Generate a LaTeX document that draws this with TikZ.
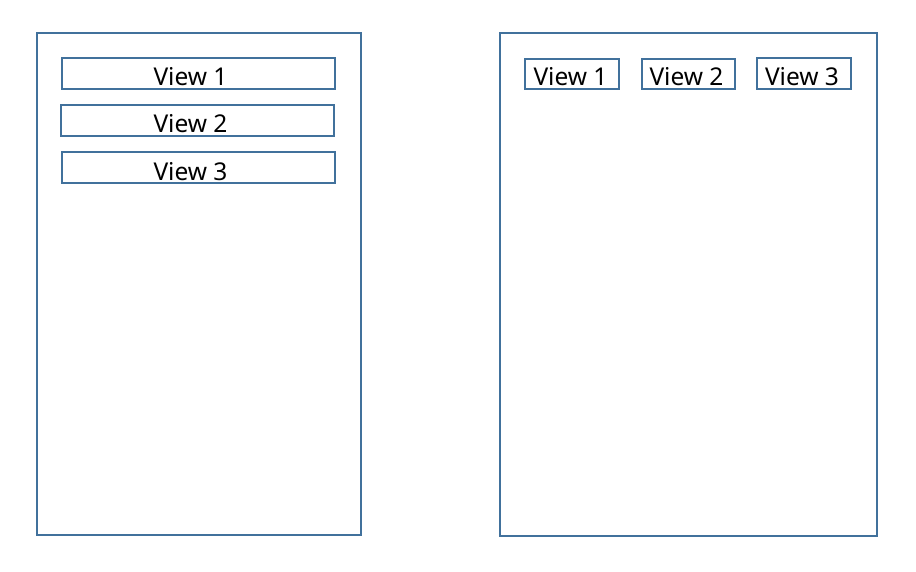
\documentclass[tikz,border=0pt]{standalone}
\usepackage{fontspec}
\setmainfont{Noto Sans}
\definecolor{frameblue}{HTML}{41719C}
\begin{document}
\begin{tikzpicture}[x=1pt,y=-1pt,
  frame/.style={draw=frameblue,line width=1.8pt},
  viewbox/.style={draw=frameblue,line width=1.8pt,inner sep=0pt,anchor=north west},
  lbl/.style={font=\fontsize{24.5}{28}\selectfont,text=black,inner sep=0pt,anchor=base}]
\useasboundingbox[fill=white] (0,0) rectangle (916,571);
\draw[frame] (37,33) rectangle (361,535);
\draw[frame] (500,33) rectangle (877,536);
% left column
\node[viewbox,minimum width=273pt,minimum height=31pt] (l1) at (61,57) {};
\node[viewbox,minimum width=273pt,minimum height=31pt] (l2) at (60,104) {};
\node[viewbox,minimum width=273pt,minimum height=31pt] (l3) at (61,151) {};
\node[lbl] at (190.5,85) {View 1};
\node[lbl] at (190.5,132) {View 2};
\node[lbl] at (190.5,180) {View 3};
% right row
\node[viewbox,minimum width=94pt,minimum height=30pt] (r1) at (524,58) {};
\node[viewbox,minimum width=93pt,minimum height=30pt] (r2) at (641,58) {};
\node[viewbox,minimum width=94pt,minimum height=31pt] (r3) at (756,57) {};
\node[lbl] at (570.5,85) {View 1};
\node[lbl] at (686.5,85) {View 2};
\node[lbl] at (802,85) {View 3};
\end{tikzpicture}
\end{document}
